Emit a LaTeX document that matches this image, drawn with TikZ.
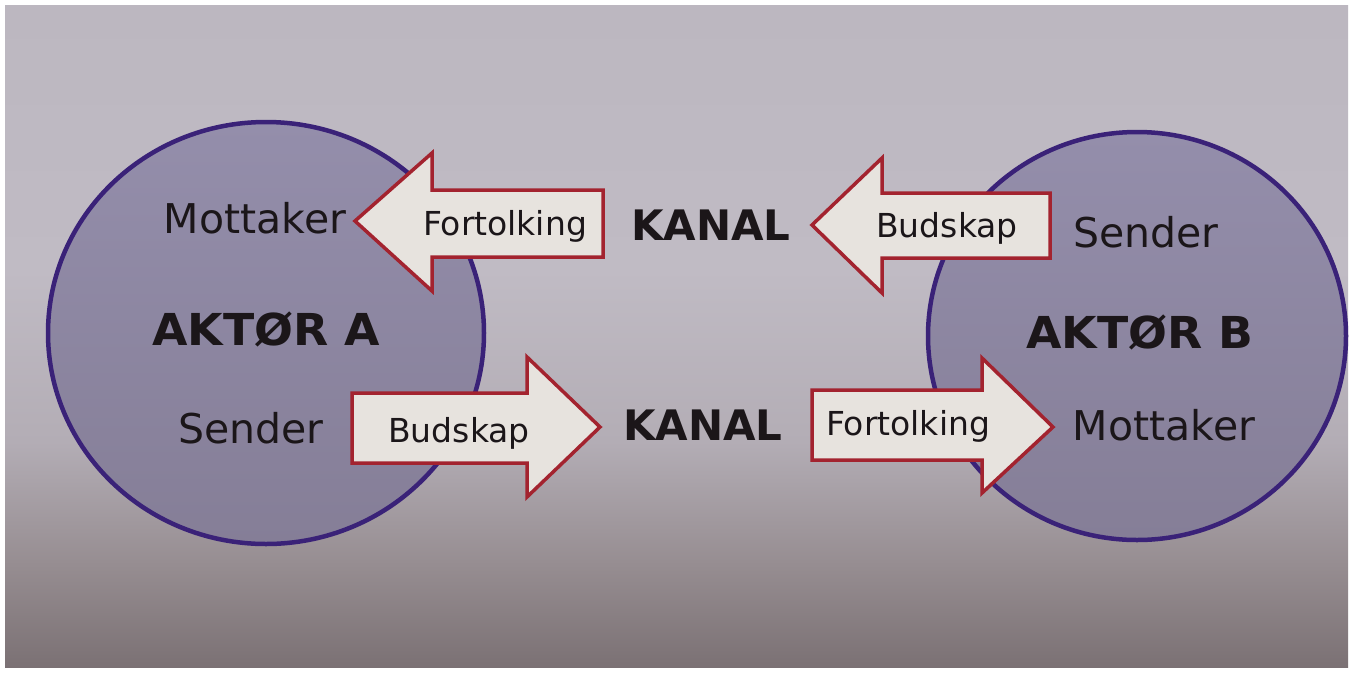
\documentclass[tikz,border=0pt]{standalone}
\usepackage{fontspec}
\setmainfont{DejaVu Sans}
\definecolor{bgtop}{HTML}{BCB7C0}
\definecolor{bgmid}{HTML}{C0BBC4}
\definecolor{bglow}{HTML}{B3ADB5}
\definecolor{bgdim}{HTML}{978E92}
\definecolor{bgbot}{HTML}{7B7174}
\definecolor{circtop}{HTML}{948EAB}
\definecolor{circbot}{HTML}{857E97}
\definecolor{circline}{HTML}{3A2278}
\definecolor{arrfill}{HTML}{E7E3DE}
\definecolor{arrline}{HTML}{A3232F}
\definecolor{ink}{HTML}{1B1619}
\pgfdeclareverticalshading{bgshade}{100bp}{color(0bp)=(bgbot); color(25bp)=(bgbot); color(33bp)=(bgdim); color(42bp)=(bglow); color(55bp)=(bgmid); color(75bp)=(bgtop); color(100bp)=(bgtop)}
\begin{document}
\begin{tikzpicture}[x=1pt,y=-1pt,
  actor/.style={top color=circtop, bottom color=circbot},
  msgarrow/.style={fill=arrfill, draw=arrline, line width=3.5pt, line join=miter},
  rolelbl/.style={font=\fontsize{41}{44}\selectfont, text=ink, anchor=base, inner sep=0pt},
  arrlbl/.style={font=\fontsize{33}{36}\selectfont, text=ink, anchor=base, inner sep=0pt},
  kanallbl/.style={font=\fontsize{42}{46}\selectfont\bfseries, text=ink, anchor=base, inner sep=0pt},
  actorlbl/.style={font=\fontsize{44}{48}\selectfont\bfseries, text=ink, anchor=base, inner sep=0pt}]
\useasboundingbox (0,0) rectangle (1355,673);
\fill[white] (0,0) rectangle (1355,673);
\shade[shading=bgshade] (5,5) rectangle (1348,667);
% actors
\shade[actor] (266,333) ellipse [x radius=218, y radius=211];
\draw[draw=circline, line width=4.5pt] (266,333) ellipse [x radius=218, y radius=211];
\shade[actor] (1137,336) ellipse [x radius=209, y radius=204];
\draw[draw=circline, line width=4.5pt] (1137,336) ellipse [x radius=209, y radius=204];
% arrows
\draw[msgarrow] (355,221) -- (432,153) -- (432,190) -- (603,190) -- (603,257) -- (432,257) -- (432,291) -- cycle;
\draw[msgarrow] (352,393) -- (527,393) -- (527,357) -- (600,427) -- (527,497) -- (527,463) -- (352,463) -- cycle;
\draw[msgarrow] (812,225) -- (882,158) -- (882,193) -- (1050,193) -- (1050,258) -- (882,258) -- (882,293) -- cycle;
\draw[msgarrow] (812,390) -- (982,390) -- (982,358) -- (1053,427) -- (982,493) -- (982,460) -- (812,460) -- cycle;
% texts
\node[rolelbl] (mottA) at (255,233) {Mottaker};
\node[rolelbl] (sendA) at (251,443) {Sender};
\node[actorlbl] (aktA) at (266,345) {\scalebox{1.04}[1]{AKTØR A}};
\node[rolelbl] (sendB) at (1146,247) {Sender};
\node[rolelbl] (mottB) at (1164,440) {Mottaker};
\node[actorlbl] (aktB) at (1140,348) {\scalebox{1.04}[1]{AKTØR B}};
\node[arrlbl] (fortA) at (505,235) {Fortolking};
\node[arrlbl] (budA) at (459,442) {Budskap};
\node[arrlbl] (budB) at (947,237) {Budskap};
\node[arrlbl] (fortB) at (908,435) {Fortolking};
\node[kanallbl] (kan1) at (711,240) {KANAL};
\node[kanallbl] (kan2) at (703,440) {KANAL};
\end{tikzpicture}
\end{document}
